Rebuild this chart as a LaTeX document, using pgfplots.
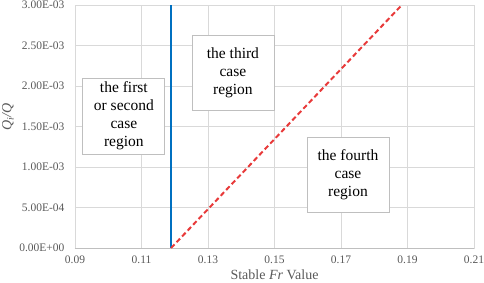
\documentclass[border=0pt]{standalone}
\usepackage{fontspec}
\setmainfont{Liberation Serif}
\usepackage{pgfplots}
\pgfplotsset{compat=1.18}
\definecolor{gridc}{RGB}{217,217,217}
\definecolor{axc}{RGB}{191,191,191}
\definecolor{txt}{RGB}{89,89,89}
\definecolor{blueline}{RGB}{0,112,192}
\definecolor{redline}{RGB}{232,58,58}
\begin{document}
\begin{tikzpicture}
\begin{axis}[
  name=ax,
  scale only axis,
  width=399pt, height=243pt,
  xmin=0.09, xmax=0.21, ymin=0, ymax=0.003,
  xtick={0.09,0.11,0.13,0.15,0.17,0.19,0.21},
  xticklabels={0.09,0.11,0.13,0.15,0.17,0.19,0.21},
  ytick={0,0.0005,0.001,0.0015,0.002,0.0025,0.003},
  yticklabels={0.00E+00,5.00E-04,1.00E-03,1.50E-03,2.00E-03,2.50E-03,3.00E-03},
  scaled x ticks=false, scaled y ticks=false,
  grid=major,
  major grid style={draw=gridc, line width=0.8pt},
  axis line style={draw=gridc, line width=0.8pt},
  major tick length=0pt,
  tick label style={font=\rmfamily\fontsize{11.5}{13}\selectfont, text=txt},
  xticklabel style={yshift=-4pt},
  yticklabel style={xshift=-7pt},
  xlabel={Stable \textit{Fr} Value},
  xlabel style={font=\rmfamily\fontsize{14}{16}\selectfont, text=txt, at={(axis description cs:0.5,0)}, anchor=center, yshift=-27pt},
  ylabel={\textit{Q\textsubscript{i}/Q}},
  ylabel style={font=\rmfamily\fontsize{14}{16}\selectfont, text=txt, at={(axis description cs:-0.168,0.54)}, anchor=center},
  clip=false,
]
\draw[draw=axc, line width=0.8pt] (rel axis cs:0,0) -- (rel axis cs:1,0);
\addplot[blueline, line width=2pt] coordinates {(0.1189,0) (0.1189,0.003)};
\addplot[redline, line width=2pt, dash pattern=on 5pt off 3pt] coordinates {(0.1189,0) (0.1883,0.003)};
\node[draw=axc, fill=white, line width=0.8pt, minimum width=82pt, minimum height=76pt, align=center, font=\rmfamily\fontsize{15.5}{18}\selectfont, inner sep=0pt] at (axis cs:0.1047,0.00163) {the first\\or second\\case\\region};
\node[draw=axc, fill=white, line width=0.8pt, minimum width=82pt, minimum height=75pt, align=center, font=\rmfamily\fontsize{15.5}{18}\selectfont, inner sep=0pt] at (axis cs:0.1375,0.002167) {the third\\case\\region};
\node[draw=axc, fill=white, line width=0.8pt, minimum width=82pt, minimum height=75pt, align=center, font=\rmfamily\fontsize{15.5}{18}\selectfont, inner sep=0pt] at (axis cs:0.1721,0.000907) {the fourth\\case\\region};
\end{axis}
\pgfresetboundingbox
\useasboundingbox ([shift={(-75pt,-35pt)}]ax.south west) rectangle ([shift={(10pt,5pt)}]ax.north east);
\end{tikzpicture}
\end{document}
